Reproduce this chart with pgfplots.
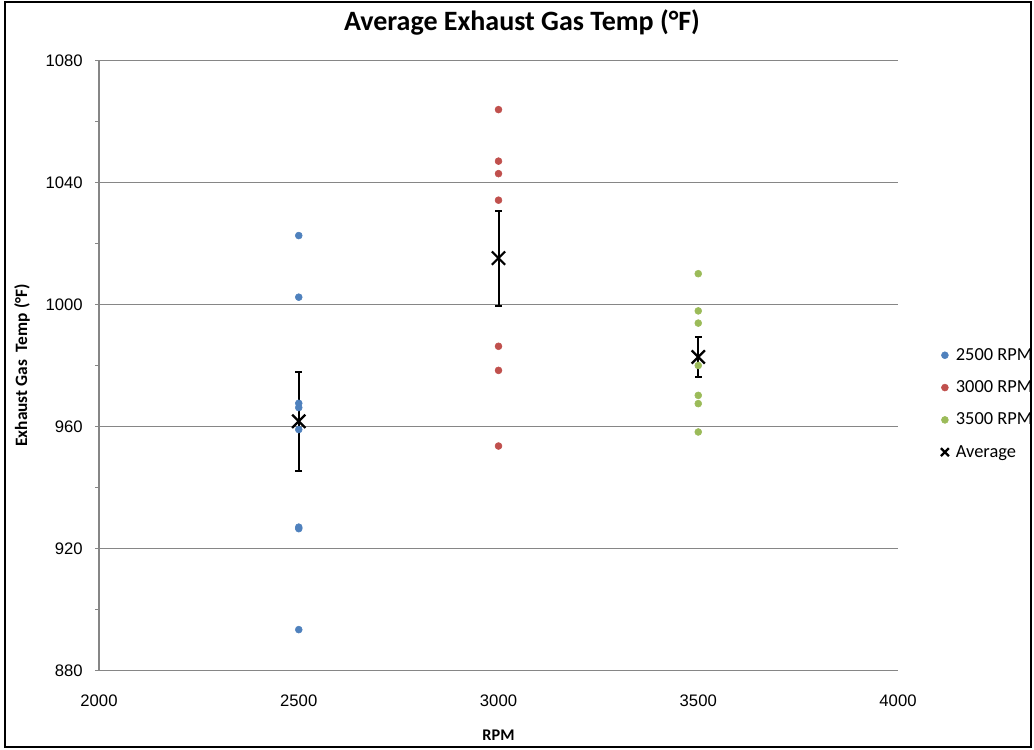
\documentclass[border=0pt]{standalone}
\usepackage{fontspec}
\setmainfont{Carlito}
\newfontfamily\tickfont{Liberation Sans}
\usepackage{pgfplots}
\pgfplotsset{compat=1.18}
\definecolor{sblue}{HTML}{4F81BD}
\definecolor{sred}{HTML}{C0504D}
\definecolor{sgreen}{HTML}{9BBB59}
\definecolor{gridgray}{HTML}{868686}
\begin{document}
\begin{tikzpicture}
\useasboundingbox (0,0) rectangle (775.5pt,561.75pt);
\draw[line width=1.5pt] (3.75pt,1.5pt) rectangle (773.25pt,560.25pt);
\begin{axis}[
  at={(74.25pt,58.875pt)}, anchor=south west,
  scale only axis, width=599.25pt, height=457.5pt,
  xmin=2000, xmax=4000, ymin=880, ymax=1080,
  xtick={2000,2500,...,4000}, ytick={880,920,...,1080},
  minor y tick num=1,
  axis x line*=bottom, axis y line*=left,
  axis line style={-, draw=gridgray, line width=0.9pt},
  ymajorgrids, grid style={draw=gridgray, line width=0.75pt},
  tick align=outside, major tick length=3pt, minor tick length=3pt,
  tick style={draw=gridgray, line width=0.75pt},
  major x tick style={draw=none},
  /pgf/number format/1000 sep={},
  /pgf/number format/assume math mode=true,
  ticklabel style={font=\tickfont\fontsize{12.5}{15}\selectfont, inner sep=0pt},
  yticklabel style={anchor=east, xshift=-9pt},
  xticklabel style={anchor=north, yshift=-15pt},
  title={Average Exhaust Gas Temp (°F)},
  title style={font=\bfseries\fontsize{21}{25}\selectfont, at={(axis description cs:0.5294,1.050)}, anchor=center},
  xlabel={RPM},
  xlabel style={font=\bfseries\fontsize{12.2}{14}\selectfont, at={(axis description cs:0.5,-0.1057)}, anchor=center},
  ylabel={Exhaust Gas\ \ Temp (°F)},
  ylabel style={font=\bfseries\fontsize{13}{15}\selectfont, at={(axis description cs:-0.0964,0.5)}, anchor=center},
  legend image code/.code={\draw[mark repeat=2,mark phase=2,#1] plot coordinates {(0pt,0pt) (3pt,0pt) (6pt,0pt)};},
  legend cell align=left,
  legend style={at={(axis description cs:1.0534,0.5287)}, anchor=north west, draw=none, fill=none, inner sep=0pt,
    row sep=13.8pt, column sep=5.25pt, font=\fontsize{13.8}{16}\selectfont, nodes={inner sep=0pt}},
]
\addplot[only marks, mark=*, color=sblue, mark size=2.6pt] coordinates {
  (2500,1022.6) (2500,1002.4) (2500,967.6) (2500,966.2) (2500,959.0) (2500,927.0) (2500,926.5) (2500,893.4)};
\addlegendentry{2500 RPM}
\addplot[only marks, mark=*, color=sred, mark size=2.6pt] coordinates {
  (3000,1063.9) (3000,1047.0) (3000,1042.9) (3000,1034.2) (3000,986.3) (3000,978.4) (3000,953.6)};
\addlegendentry{3000 RPM}
\addplot[only marks, mark=*, color=sgreen, mark size=2.6pt] coordinates {
  (3500,1010.1) (3500,997.9) (3500,993.9) (3500,980.0) (3500,970.2) (3500,967.5) (3500,958.2)};
\addlegendentry{3500 RPM}
\addplot[forget plot, only marks, mark=x, mark size=7pt, line width=1.7pt, black,
  error bars/.cd, y dir=both, y explicit,
  error bar style={line width=1.5pt, black},
  error mark options={rotate=90, mark size=2.6pt, line width=1.5pt, black}]
  coordinates {(2500,961.7) +- (0,16.3) (3000,1015.2) +- (0,15.6) (3500,982.8) +- (0,6.5)};
\addlegendimage{only marks, mark=x, mark size=4.2pt, line width=1.7pt, black}
\addlegendentry{Average}
\end{axis}
\end{tikzpicture}
\end{document}
